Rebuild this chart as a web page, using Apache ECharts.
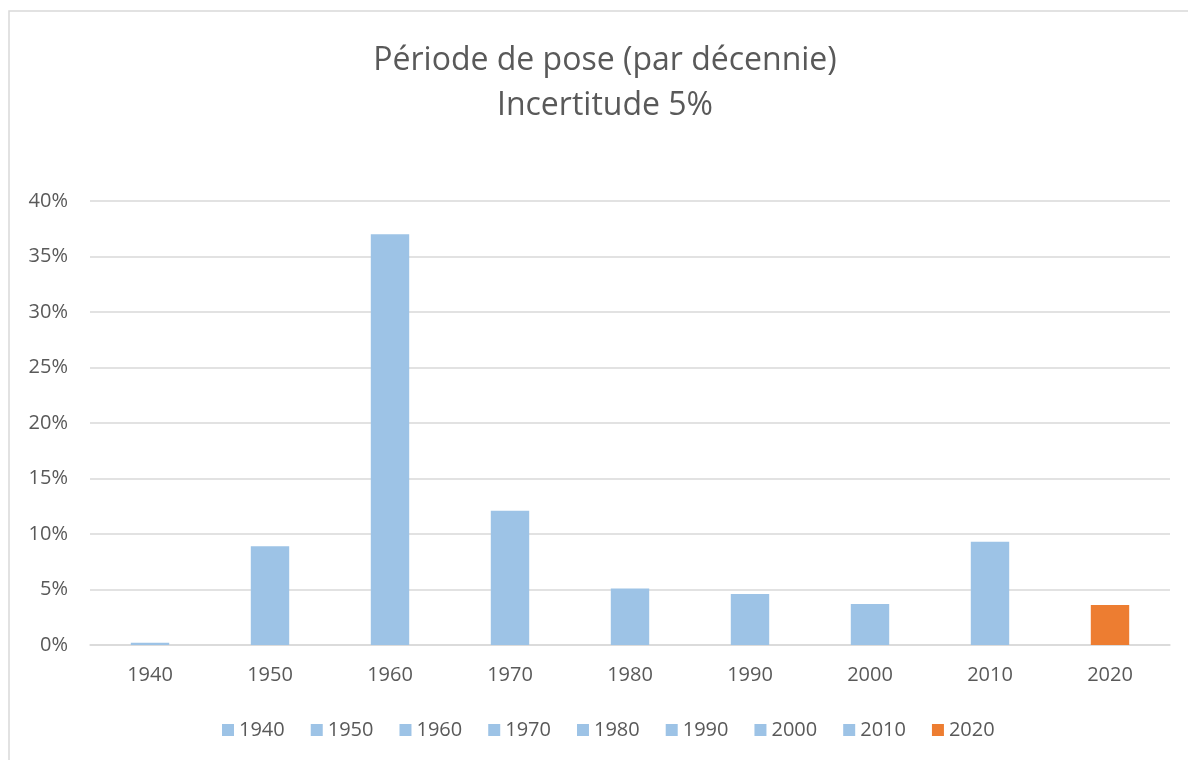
<!DOCTYPE html>
<html>
<head>
<meta charset="utf-8">
<script src="https://cdn.jsdelivr.net/npm/echarts@6/dist/echarts.min.js"></script>
<style>
html,body{margin:0;padding:0;background:#fff;}
#c{width:1188px;height:760px;}
</style>
</head>
<body>
<div id="c"></div>
<script>
const categories = ['1940','1950','1960','1970','1980','1990','2000','2010','2020'];
const values = [0.2, 8.9, 37.0, 12.1, 5.1, 4.6, 3.7, 9.3, 3.6];
const colors = ['#9DC3E6','#9DC3E6','#9DC3E6','#9DC3E6','#9DC3E6','#9DC3E6','#9DC3E6','#9DC3E6','#ED7D31'];
const yTicks = [0, 5, 10, 15, 20, 25, 30, 35, 40];

const FONT = 'Open Sans';
const TXT = '#595959';

const series = categories.map((c, i) => ({
  name: c,
  type: 'bar',
  stack: 'all',
  barWidth: '32%',
  itemStyle: { color: colors[i] },
  data: categories.map((_, j) => j === i ? values[i] : '-')
}));

const chart = echarts.init(document.getElementById('c'), null, { renderer: 'canvas' });
chart.setOption({
  animation: false,
  backgroundColor: '#fff',
  graphic: [{
    type: 'rect',
    shape: { x: 9, y: 11, width: 1300, height: 900 },
    style: { fill: 'none', stroke: '#D9D9D9', lineWidth: 1.5 },
    silent: true, z: -10
  }],
  title: {
    text: 'Période de pose (par décennie)\nIncertitude 5%',
    left: 600,
    textAlign: 'center',
    top: 33,
    textStyle: { fontFamily: FONT, fontSize: 32, fontWeight: 'normal', color: TXT, lineHeight: 45 }
  },
  legend: {
    bottom: 15,
    left: 217,
    itemWidth: 12,
    itemHeight: 12,
    itemGap: 26,
    icon: 'rect',
    textStyle: { fontFamily: FONT, fontSize: 20, color: TXT },
    data: categories
  },
  grid: { left: 90, right: 18, top: 201, bottom: 115, containLabel: false },
  xAxis: {
    type: 'category',
    data: categories,
    axisLine: { lineStyle: { color: '#D9D9D9', width: 1.5 } },
    axisTick: { show: false },
    axisLabel: { fontFamily: FONT, fontSize: 20, color: TXT, margin: 20 }
  },
  yAxis: {
    type: 'value',
    min: yTicks[0],
    max: yTicks[yTicks.length - 1],
    interval: 5,
    axisLine: { show: false },
    axisTick: { show: false },
    splitLine: { lineStyle: { color: '#D9D9D9', width: 1.5 } },
    axisLabel: { fontFamily: FONT, fontSize: 20, color: TXT, margin: 22, formatter: v => v + '%' }
  },
  series: series
});
</script>
</body>
</html>
